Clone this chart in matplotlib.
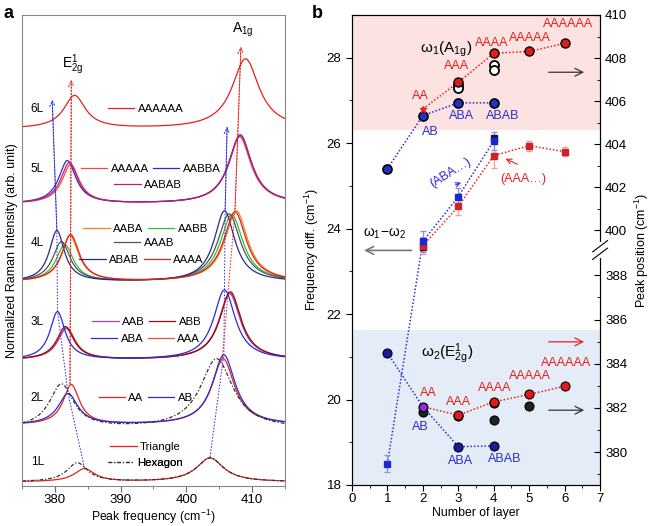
import numpy as np
import matplotlib
matplotlib.use('Agg')
import matplotlib.pyplot as plt

plt.rcParams['font.family'] = ['Liberation Sans', 'DejaVu Sans']
plt.rcParams['mathtext.fontset'] = 'custom'
plt.rcParams['mathtext.rm'] = 'Liberation Sans'
plt.rcParams['mathtext.it'] = 'Liberation Sans:italic'

# ---------------- panel a : peak parameters
spec_layer = [1, 1, 2, 2, 2, 3, 3, 3, 3, 4, 4, 4, 4, 4, 5, 5, 5, 6]
spec_label = ['Triangle', 'Hexagon', 'AA', 'AB', 'Hexagon', 'AAA', 'AAB', 'ABB', 'ABA',
              'AABA', 'AABB', 'AAAB', 'ABAB', 'AAAA', 'AAAAA', 'AABBA', 'AABAB', 'AAAAAA']
spec_base = [0.04, 0.04, 0.61, 0.61, 0.57, 1.26, 1.26, 1.26, 1.26,
             2.04, 2.04, 2.04, 2.04, 2.04, 2.82, 2.82, 2.82, 3.57]
e2g_pos = [384.5, 383.4, 382.5, 382.0, 381.0, 381.8, 381.7, 381.6, 380.4,
           382.3, 381.5, 381.0, 380.3, 382.4, 382.4, 381.9, 382.2, 383.0]
e2g_h = [0.13, 0.19, 0.40, 0.31, 0.44, 0.32, 0.31, 0.33, 0.48,
         0.46, 0.37, 0.40, 0.51, 0.47, 0.39, 0.43, 0.41, 0.33]
e2g_w = [3.8, 3.8, 3.0, 3.6, 4.5, 3.2, 3.2, 3.2, 2.8,
         3.2, 3.2, 3.2, 2.8, 3.2, 3.2, 3.2, 3.2, 4.0]
a1g_pos = [403.6, 403.6, 405.6, 405.7, 404.6, 406.6, 406.6, 406.7, 405.8,
           407.6, 406.9, 406.5, 405.8, 407.4, 408.1, 408.2, 408.2, 409.0]
a1g_h = [0.24, 0.24, 0.66, 0.70, 0.70, 0.67, 0.66, 0.68, 0.70,
         0.71, 0.67, 0.68, 0.71, 0.70, 0.67, 0.69, 0.68, 0.70]
a1g_w = [5.0, 5.0, 4.2, 4.2, 6.0, 4.0, 4.0, 4.0, 4.0,
         4.2, 4.2, 4.2, 3.8, 4.2, 4.2, 4.2, 4.2, 5.0]

legend_rows = {6: [['AAAAAA']],
               5: [['AAAAA', 'AABBA'], ['AABAB']],
               4: [['AABA', 'AABB'], ['AAAB'], ['ABAB', 'AAAA']],
               3: [['AAB', 'ABB'], ['ABA', 'AAA']],
               2: [['AA', 'AB']],
               1: [['Triangle'], ['Hexagon']]}

# guide lines through the peak maxima (frequency, intensity)
e2g_blue_f = [384.5, 382.0, 380.4, 380.3, 379.6]
e2g_blue_y = [0.18, 0.93, 1.75, 2.56, 3.86]
e2g_red_f = [382.3, 382.5]
e2g_red_y = [1.02, 4.06]
a1g_blue_f = [403.6, 405.7, 405.8, 405.9, 406.2]
a1g_blue_y = [0.29, 1.32, 1.97, 2.76, 3.59]
a1g_red_f = [405.5, 407.4, 408.3]
a1g_red_y = [1.28, 2.76, 4.39]

# ---------------- panel b
# frequency difference w1-w2 (left axis)
diff_aba_x = [1, 2, 3, 4]
diff_aba = [18.5, 23.7, 24.75, 26.05]
diff_aba_err = [0.2, 0.25, 0.2, 0.2]
diff_aaa_x = [2, 3, 4, 5, 6]
diff_aaa = [23.6, 24.52, 25.71, 25.94, 25.8]
diff_aaa_err = [0.2, 0.2, 0.28, 0.12, 0.1]
diff_oth_x = [2, 4]
diff_oth = [23.58, 26.12]

# peak positions (right axis)
a1g_ab_x = [1, 2, 3, 4]
a1g_ab = [402.86, 405.33, 405.92, 405.92]
a1g_aa_x = [3, 4, 5, 6]
a1g_aa = [406.87, 408.22, 408.31, 408.68]
a1g_aa2 = 405.64
a1g_oth_x = [3, 3, 4, 4]
a1g_oth = [406.73, 406.63, 407.69, 407.45]

e2g_ab_x = [1, 2, 3, 4]
e2g_ab = [384.49, 382.05, 380.24, 380.28]
e2g_aa_x = [2, 3, 4, 5, 6]
e2g_aa = [382.05, 381.67, 382.27, 382.61, 382.98]
e2g_oth_x = [2, 3, 4, 4, 5]
e2g_oth = [381.82, 381.62, 381.45, 382.22, 382.09]

RED = '#e8201c'
BLUE = '#2b2bd6'
styles = {'Triangle': (RED, '-'), 'Hexagon': ('#333333', (0, (3, 1.5, 1, 1.5))),
          'AA': (RED, '-'), 'AB': (BLUE, '-'),
          'AAA': ('#f04a4a', '-'), 'AAB': ('#b040b0', '-'), 'ABB': ('#8b1010', '-'), 'ABA': (BLUE, '-'),
          'AABA': ('#f08020', '-'), 'AABB': ('#30c040', '-'), 'AAAB': ('#555555', '-'),
          'ABAB': ('#2a2a88', '-'), 'AAAA': (RED, '-'),
          'AAAAA': ('#f04a4a', '-'), 'AABBA': (BLUE, '-'), 'AABAB': ('#c0206a', '-'),
          'AAAAAA': (RED, '-')}


def lorentz(x, x0, h, w):
    return h / (1 + ((x - x0) / (w / 2)) ** 2)


fig = plt.figure(figsize=(6.53, 5.26), dpi=100)

# ================= panel a
axa = fig.add_axes([0.0337, 0.076, 0.4027, 0.8955])
freq = np.linspace(375, 415, 801)
handles = {}
for i in range(len(spec_label)):
    col, ls = styles[spec_label[i]]
    y = (spec_base[i] + lorentz(freq, e2g_pos[i], e2g_h[i], e2g_w[i])
         + lorentz(freq, a1g_pos[i], a1g_h[i], a1g_w[i]))
    ln, = axa.plot(freq, y, color=col, ls=ls, lw=0.9)
    handles.setdefault((spec_layer[i], spec_label[i]), ln)

guide = (0, (1.6, 1.6))
for f, yv, c in [(e2g_blue_f, e2g_blue_y, BLUE), (e2g_red_f, e2g_red_y, RED),
                 (a1g_blue_f, a1g_blue_y, BLUE), (a1g_red_f, a1g_red_y, RED)]:
    axa.plot(f, yv, color=c, ls=guide, lw=0.7)
    axa.annotate('', xy=(f[-1], yv[-1]), xytext=(f[-2], yv[-2]),
                 arrowprops=dict(arrowstyle='->', color=c, lw=0.7, shrinkA=0, shrinkB=0,
                                 mutation_scale=10, linestyle=guide))

axa.text(382.7, 4.21, r'$\mathregular{E^1_{2g}}$', fontsize=10, ha='center', va='center')
axa.text(408.6, 4.56, r'$\mathregular{A_{1g}}$', fontsize=10, ha='center', va='center')

layer_y = {6: 3.77, 5: 3.17, 4: 2.43, 3: 1.64, 2: 0.88, 1: 0.24}
for n, yv in layer_y.items():
    axa.text(376.3, yv, '%dL' % n, fontsize=8.5, va='center')

row_pos = {6: [(0.47, 0.800)],
           5: [(0.49, 0.673), (0.48, 0.639)],
           4: [(0.47, 0.546), (0.465, 0.516), (0.455, 0.480)],
           3: [(0.475, 0.348), (0.47, 0.312)],
           2: [(0.47, 0.187)],
           1: [(0.47, 0.083), (0.47, 0.049)]}
for n, rows in legend_rows.items():
    for row, pos in zip(rows, row_pos[n]):
        leg = axa.legend([handles[(n, lab)] for lab in row], row, ncol=len(row),
                         loc='center', bbox_to_anchor=pos, frameon=False, fontsize=8.2,
                         handlelength=2.3, handletextpad=0.3, columnspacing=0.4,
                         borderpad=0, borderaxespad=0)
        axa.add_artist(leg)

axa.set_xlim(375, 415)
axa.set_ylim(0, 4.71)
axa.set_xticks([380, 390, 400, 410])
axa.set_xticks(np.arange(375, 416, 5), minor=True)
axa.set_yticks([])
axa.tick_params(axis='x', direction='out', length=4, pad=2, labelsize=9.5, color='#666666')
axa.tick_params(axis='x', which='minor', length=2.5, color='#666666')
for s in axa.spines.values():
    s.set_color('#888888')
axa.set_xlabel(r'Peak frequency (cm$\mathregular{^{-1}}$)', fontsize=8.8, labelpad=1)
axa.set_ylabel('Normalized Raman Intensity (arb. unit)', fontsize=9, labelpad=3)

# ================= panel b
axb = fig.add_axes([0.539, 0.078, 0.380, 0.8935])
axb.set_xlim(0, 7)
axb.set_ylim(18, 29)
axb.axhspan(26.3, 29, color='#fde2e2', zorder=0, lw=0)
axb.axhspan(18, 21.62, color='#e4edf7', zorder=0, lw=0)

dot = (0, (1, 1.3))
axb.plot(diff_aba_x, diff_aba, color=BLUE, ls=dot, lw=1.1)
axb.plot(diff_aaa_x, diff_aaa, color=RED, ls=dot, lw=1.1)
axb.errorbar(diff_aaa_x, diff_aaa, yerr=diff_aaa_err, fmt='s', ms=4.5, color='#d0202a',
             ecolor='#f0a0a0', elinewidth=0.9, capsize=2)
axb.errorbar(diff_aba_x, diff_aba, yerr=diff_aba_err, fmt='s', ms=4.5, color='#1a2ad0',
             ecolor='#9090e0', elinewidth=0.9, capsize=2)
axb.plot(diff_oth_x, diff_oth, 's', ms=4.5, color='#1a1a40')

# broken right axis: map peak positions to the left axis frame
brk_v = [300, 380, 388.8, 399.2, 410, 500]
brk_l = [18.771 + (v - 380) * 0.5168 if v < 390 else 23.96 + (v - 400) * 0.504 for v in brk_v]


def fwd(v):
    return np.interp(v, brk_v, brk_l)


def inv(l):
    return np.interp(l, brk_l, brk_v)


ax2 = axb.twinx()
ax2.set_yscale('function', functions=(fwd, inv))
ax2.set_ylim(inv(18), inv(29))

ax2.plot(a1g_ab_x, a1g_ab, color=BLUE, ls=dot, lw=1.1)
ax2.plot([2] + a1g_aa_x, [a1g_aa2] + a1g_aa, color=RED, ls=dot, lw=1.1)
ax2.plot(e2g_ab_x, e2g_ab, color=BLUE, ls=dot, lw=1.1)
ax2.plot(e2g_aa_x, e2g_aa, color=RED, ls=dot, lw=1.1)
ax2.plot(a1g_oth_x, a1g_oth, 'o', ms=6.5, mfc='white', mec='black', mew=1.3)
ax2.plot(e2g_oth_x, e2g_oth, 'o', ms=6.5, mfc='#202020', mec='black', mew=0.8)
ax2.plot(a1g_ab_x, a1g_ab, 'o', ms=6.5, mfc='#2430c8', mec='black', mew=1.2)
ax2.plot(a1g_aa_x, a1g_aa, 'o', ms=6.5, mfc='#e41a1a', mec='black', mew=1.0)
ax2.plot([2], [a1g_aa2], '*', ms=5, color=RED)
ax2.plot(e2g_ab_x, e2g_ab, 'o', ms=6.5, mfc='#1a1aa0', mec='black', mew=0.8)
ax2.plot(e2g_aa_x[1:], e2g_aa[1:], 'o', ms=6.5, mfc='#e41a1a', mec='black', mew=0.8)
ax2.plot([2], [e2g_aa[0]], 'o', ms=4, color='#9a2ad0')

ax2.set_yticks([380, 382, 384, 386, 388, 400, 402, 404, 406, 408, 410])
ax2.set_yticks([379, 381, 383, 385, 387, 401, 403, 405, 407, 409], minor=True)
ax2.yaxis.set_major_formatter(matplotlib.ticker.FormatStrFormatter('%d'))
ax2.yaxis.set_minor_formatter(matplotlib.ticker.NullFormatter())
ax2.tick_params(axis='y', direction='in', length=4, labelsize=9.5)
ax2.tick_params(axis='y', which='minor', direction='in', length=2.5)
ax2.set_ylabel(r'Peak position (cm$\mathregular{^{-1}}$)', fontsize=9, labelpad=4)

# axis break marks
ax2.plot([1, 1], [0.487, 0.513], color='white', lw=3, transform=ax2.transAxes,
         clip_on=False, zorder=6)
for yb in [0.492, 0.508]:
    ax2.plot([0.97, 1.03], [yb - 0.012, yb + 0.012], color='black', lw=0.8,
             transform=ax2.transAxes, clip_on=False, zorder=7)

axb.set_xticks(range(8))
axb.set_xticks(np.arange(0, 7.01, 0.5), minor=True)
axb.set_yticks([18, 20, 22, 24, 26, 28])
axb.set_yticks([19, 21, 23, 25, 27], minor=True)
axb.tick_params(direction='out', length=4, labelsize=9.5)
axb.tick_params(axis='x', pad=2)
axb.tick_params(which='minor', direction='out', length=2.5)
axb.set_xlabel('Number of layer', fontsize=8.8, labelpad=1)
axb.set_ylabel(r'Frequency diff. (cm$\mathregular{^{-1}}$)', fontsize=9, labelpad=4)

# annotations (left-axis units)
fs = 9
for t, x, y in [('AA', 1.92, 27.11), ('AAA', 2.96, 27.81), ('AAAA', 3.95, 28.35),
                ('AAAAA', 5.02, 28.47), ('AAAAAA', 6.1, 28.8),
                ('AA', 2.15, 20.15), ('AAA', 3.0, 19.94), ('AAAA', 4.04, 20.27),
                ('AAAAA', 5.02, 20.55), ('AAAAAA', 6.04, 20.85)]:
    axb.text(x, y, t, color=RED, fontsize=fs, ha='center', va='center', zorder=8)
for t, x, y in [('AB', 2.2, 26.27), ('ABA', 3.1, 26.64), ('ABAB', 4.26, 26.64),
                ('AB', 1.92, 19.36), ('ABA', 3.05, 18.56), ('ABAB', 4.32, 18.61)]:
    axb.text(x, y, t, color=BLUE, fontsize=fs, ha='center', va='center', zorder=8)

axb.text(2.66, 28.2, r'$\mathregular{\omega_1(A_{1g})}$', fontsize=11, ha='center', va='center')
axb.text(2.68, 21.08, r'$\mathregular{\omega_2(E^1_{2g})}$', fontsize=11, ha='center', va='center')
axb.text(0.93, 23.89, r'$\mathregular{\omega_1\!-\!\omega_2}$', fontsize=10, ha='center', va='center')
axb.text(2.77, 25.31, '(ABA…)', color=BLUE, fontsize=fs, rotation=32, ha='center', va='center')
axb.text(4.83, 25.17, '(AAA…)', color=RED, fontsize=fs, ha='center', va='center')

arrow = dict(arrowstyle='->', lw=0.9, shrinkA=0, shrinkB=0, mutation_scale=14)
axb.annotate('', xy=(6.55, 27.66), xytext=(5.55, 27.66), arrowprops=dict(arrow, color='#333333'))
axb.annotate('', xy=(6.55, 21.35), xytext=(5.55, 21.35), arrowprops=dict(arrow, color=RED))
axb.annotate('', xy=(6.55, 19.75), xytext=(5.55, 19.75), arrowprops=dict(arrow, color='#333333'))
axb.annotate('', xy=(0.34, 23.49), xytext=(1.68, 23.49), arrowprops=dict(arrow, color='#777777', lw=1.2))
axb.annotate('', xy=(3.15, 25.1), xytext=(2.85, 25.0),
             arrowprops=dict(arrowstyle='->', color=BLUE, lw=0.8, mutation_scale=8))
axb.annotate('', xy=(4.26, 25.66), xytext=(4.74, 25.48),
             arrowprops=dict(arrowstyle='->', color=RED, lw=0.8, mutation_scale=9))

fig.text(0.006, 0.975, 'a', fontsize=13, weight='bold', va='center')
fig.text(0.478, 0.975, 'b', fontsize=13, weight='bold', va='center')

fig.savefig('out.png', dpi=100)
